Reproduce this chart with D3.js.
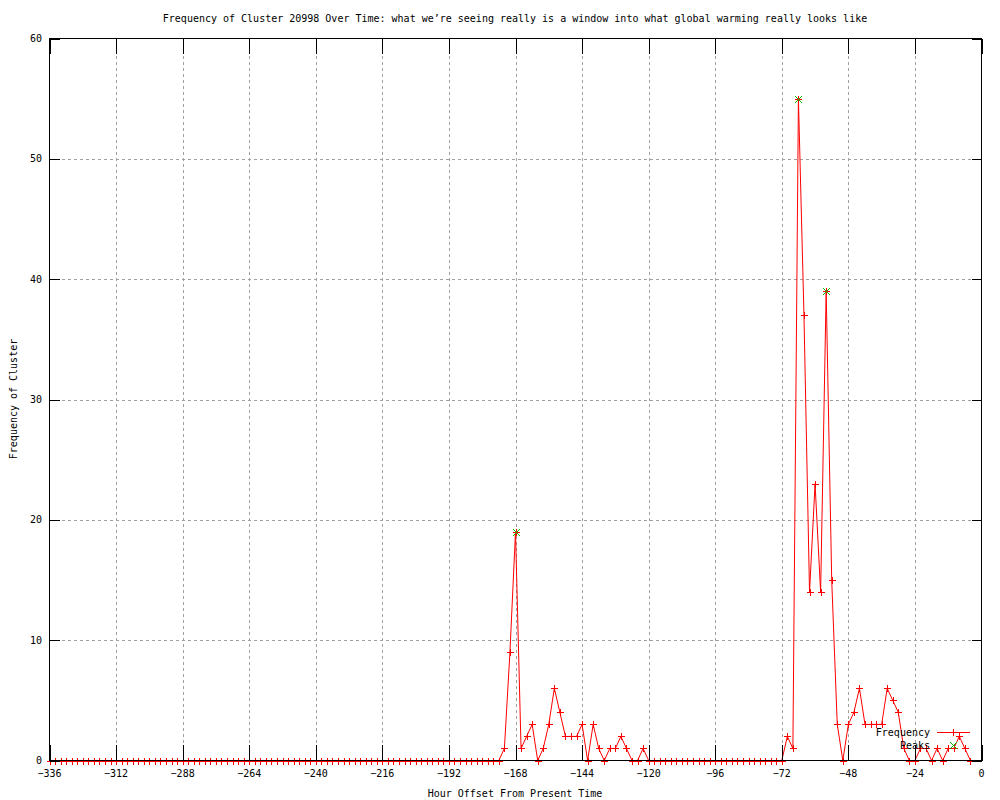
<!DOCTYPE html>
<html><head><meta charset="utf-8">
<script src="https://cdn.jsdelivr.net/npm/d3@7"></script>
<style>
body{margin:0;background:#fff}
text{font-family:"DejaVu Sans Mono","Liberation Mono",monospace;font-size:10px;fill:#000}
</style>
</head><body><svg id="c" width="1000" height="800"></svg>
<script>
// ---- data ----
const titleText = "Frequency of Cluster 20998 Over Time: what we’re seeing really is a window into what global warming really looks like";
const xLabel = "Hour Offset From Present Time";
const yLabel = "Frequency of Cluster";
const xTicks = [-336,-312,-288,-264,-240,-216,-192,-168,-144,-120,-96,-72,-48,-24,0];
const yTicks = [0,10,20,30,40,50,60];
const hours = d3.range(-336, -3, 2); // hour offsets -336 .. -4, every 2 hours
const frequency = [
  0,0,0,0,0,0,0,0,0,0,0,0,0,0,0,0,0,0,0,0,
  0,0,0,0,0,0,0,0,0,0,0,0,0,0,0,0,0,0,0,0,
  0,0,0,0,0,0,0,0,0,0,0,0,0,0,0,0,0,0,0,0,
  0,0,0,0,0,0,0,0,0,0,0,0,0,0,0,0,0,0,0,0,
  0,0,
  1,9,19,1,2,3,0,1,3,6,4,2,2,2,3,0,3,1,0,1,1,2,1,0,0,1,0,
  0,0,0,0,0,0,0,0,0,0,0,0,0,0,0,0,0,0,0,0,0,0,0,0,
  2,1,55,37,14,23,14,39,15,3,
  0,3,4,6,3,3,3,3,6,5,
  4,1,0,0,1,1,0,1,0,1,
  1,2,1,0
];
const peakHours = [-168,-66,-56];
const peakValues = [19,55,39];
const legendLabels = ["Frequency","Peaks"];

// ---- chart ----
const svg = d3.select("#c");
svg.append("rect").attr("width",1000).attr("height",800).attr("fill","#fff");
const L = 49.5, R = 981.5, T = 38.5, B = 760.5;
const x = d3.scaleLinear().domain([-336,0]).range([L,R]);
const y = d3.scaleLinear().domain([0,60]).range([B,T]);

const grid = svg.append("g").attr("stroke","#a0a0a0").attr("stroke-dasharray","3,3").attr("shape-rendering","crispEdges");
xTicks.slice(1,-1).forEach(t=>{
  grid.append("line").attr("x1",Math.round(x(t))+0.5).attr("x2",Math.round(x(t))+0.5).attr("y1",B).attr("y2",T);
});
yTicks.slice(1,-1).forEach(t=>{
  grid.append("line").attr("y1",Math.round(y(t))+0.5).attr("y2",Math.round(y(t))+0.5).attr("x1",L).attr("x2",R);
});

// data line
const pts = hours.map((h,i)=>[h,frequency[i]]);
svg.append("path").datum(pts)
  .attr("fill","none").attr("stroke","#ff0000").attr("stroke-width",1)
  .attr("d",d3.line().x(d=>x(d[0])).y(d=>y(d[1])));
const plus = (g,cx,cy,col)=>{
  g.append("path").attr("d",`M${cx-3.5},${cy}H${cx+3.5}M${cx},${cy-3.5}V${cy+3.5}`)
   .attr("stroke",col).attr("stroke-width",1).attr("fill","none");
};
const cross = (g,cx,cy,col)=>{
  g.append("path").attr("d",`M${cx-3.5},${cy-3.5}L${cx+3.5},${cy+3.5}M${cx-3.5},${cy+3.5}L${cx+3.5},${cy-3.5}`)
   .attr("stroke",col).attr("stroke-width",1).attr("fill","none");
};
const marks = svg.append("g");
pts.forEach(d=>plus(marks,Math.round(x(d[0]))+0.5,Math.round(y(d[1]))+0.5,"#ff0000"));
const pk = svg.append("g");
peakHours.forEach((h,i)=>cross(pk,Math.round(x(h))+0.5,Math.round(y(peakValues[i]))+0.5,"#00c000"));

// border & ticks
const ax = svg.append("g").attr("stroke","#000").attr("shape-rendering","crispEdges");
ax.append("rect").attr("x",L).attr("y",T).attr("width",R-L).attr("height",B-T).attr("fill","none");
xTicks.forEach(t=>{
  const px = Math.round(x(t))+0.5;
  ax.append("line").attr("x1",px).attr("x2",px).attr("y1",B).attr("y2",B-16);
  ax.append("line").attr("x1",px).attr("x2",px).attr("y1",T).attr("y2",T+15);
});
yTicks.forEach(t=>{
  const py = Math.round(y(t))+0.5;
  ax.append("line").attr("y1",py).attr("y2",py).attr("x1",L).attr("x2",L+10);
  ax.append("line").attr("y1",py).attr("y2",py).attr("x1",R).attr("x2",R-10);
});
// tick labels
const fmt = v => v<0 ? "−"+Math.abs(v) : String(v);
svg.append("g").selectAll("text").data(xTicks).join("text")
  .attr("x",d=>x(d)).attr("y",777).attr("text-anchor","middle").text(fmt);
svg.append("g").selectAll("text").data(yTicks).join("text")
  .attr("x",42).attr("y",d=>y(d)+3.5).attr("text-anchor","end").text(fmt);

// titles
svg.append("text").attr("x",515).attr("y",22).attr("text-anchor","middle").text(titleText);
svg.append("text").attr("x",515).attr("y",797).attr("text-anchor","middle").text(xLabel);
svg.append("text").attr("transform","translate(17,399) rotate(-90)").attr("text-anchor","middle").text(yLabel);

// legend
const lg = svg.append("g");
lg.append("text").attr("x",930).attr("y",736).attr("text-anchor","end").text(legendLabels[0]);
lg.append("line").attr("x1",937).attr("x2",970).attr("y1",732.5).attr("y2",732.5).attr("stroke","#ff0000");
plus(lg,953.5,732.5,"#ff0000");
lg.append("text").attr("x",930).attr("y",749).attr("text-anchor","end").text(legendLabels[1]);
cross(lg,953.5,745.5,"#00c000");
</script>
</body></html>
